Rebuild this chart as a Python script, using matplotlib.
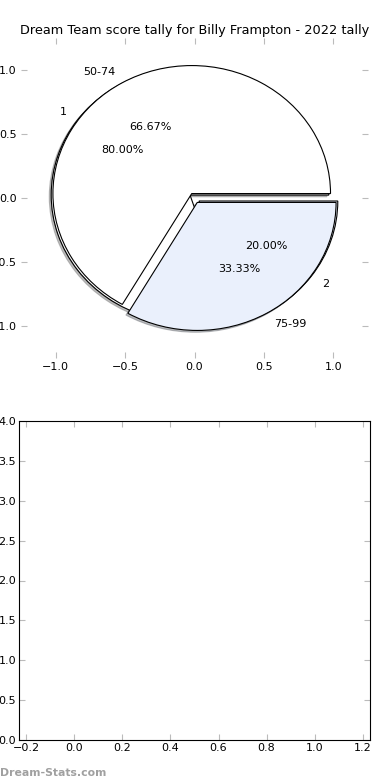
import matplotlib
matplotlib.use('Agg')
import matplotlib.pyplot as plt

# data
titulo = 'Dream Team score tally for Billy Frampton - 2022 tally'
grupos_a = ['1', '2']
valores_a = [4, 1]
grupos_b = ['50-74', '75-99']
valores_b = [2, 1]
colores = ['white', '#eaf0fc']
explode = [0.04, 0.04]

plt.rcParams['font.size'] = 8

fig = plt.figure(figsize=(3.9, 7.8), dpi=100)

ax1 = fig.add_axes([21/390, 1 - 358/780, 347/390, 320/780])
props = dict(edgecolor='black', linewidth=0.8)
sombra = dict(ox=-0.01, oy=-0.01, shade=0.5)
ax1.pie(valores_a, labels=grupos_a, colors=colores, explode=explode,
        autopct='%.2f%%', shadow=sombra, frame=True, wedgeprops=props,
        textprops=dict(fontsize=8))
ax1.pie(valores_b, labels=grupos_b, colors=colores, explode=explode,
        autopct='%.2f%%', shadow=sombra, frame=True, wedgeprops=props,
        textprops=dict(fontsize=8))
ax1.set_aspect('auto')
ax1.set_xlim(-1.25, 1.25)
ax1.set_ylim(-1.25, 1.25)
ax1.set_xticks([-1.0, -0.5, 0.0, 0.5, 1.0])
ax1.set_yticks([-1.0, -0.5, 0.0, 0.5, 1.0])
for s in ax1.spines.values():
    s.set_visible(False)
ax1.tick_params(direction='in', length=4, color='#bbbbbb', top=True, right=True,
                labelsize=8, pad=3)
ax1.set_title(titulo, fontsize=9.3, pad=3)

ax2 = fig.add_axes([19/390, 1 - 740/780, 351/390, 319/780])
ax2.set_xlim(-0.23, 1.23)
ax2.set_ylim(0, 4.0)
ax2.set_xticks([-0.2, 0.0, 0.2, 0.4, 0.6, 0.8, 1.0, 1.2])
ax2.set_yticks([0.0, 0.5, 1.0, 1.5, 2.0, 2.5, 3.0, 3.5, 4.0])
ax2.tick_params(direction='in', length=4, color='#bbbbbb', top=True, right=True,
                labelsize=8, pad=2)

fig.text(0.0, 0.003, 'Dream-Stats.com', color='#a0a0a0', fontsize=7.8,
         fontweight='semibold', ha='left', va='bottom')

fig.savefig('out.png', dpi=100)
